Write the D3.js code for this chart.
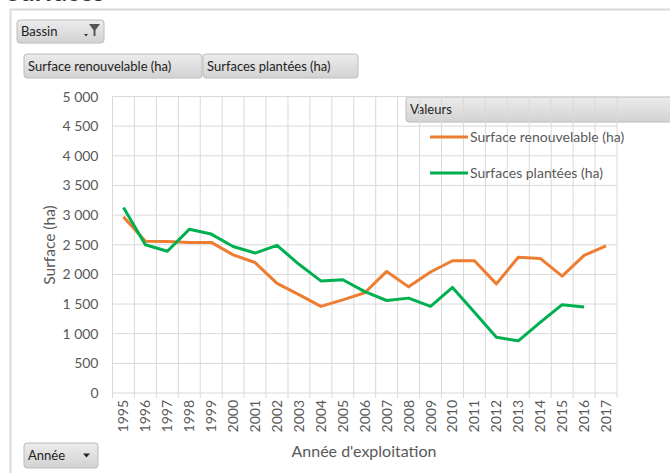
<!DOCTYPE html>
<html>
<head>
<meta charset="utf-8">
<script src="https://cdn.jsdelivr.net/npm/d3@7"></script>
<style>
  body { margin: 0; background: #fff; }
  svg { display: block; font-family: Lato, "Open Sans", sans-serif; }
</style>
</head>
<body>
<div class="canvas"></div>
<script>
// data
const years = ["1995","1996","1997","1998","1999","2000","2001","2002","2003","2004","2005","2006",
  "2007","2008","2009","2010","2011","2012","2013","2014","2015","2016","2017"];
const renouvelable = [2970,2560,2555,2540,2540,2330,2200,1850,1660,1460,1570,1690,
  2050,1790,2040,2230,2230,1840,2290,2270,1970,2320,2480];
const plantees = [3130,2500,2390,2760,2680,2470,2360,2490,2170,1890,1910,1710,
  1560,1600,1460,1780,1360,940,880,1190,1490,1450,null];
const yTicks = [0,500,1000,1500,2000,2500,3000,3500,4000,4500,5000];
const seriesNames = ["Surface renouvelable (ha)", "Surfaces plantées (ha)"];
const seriesColors = ["#ed7d31", "#00b050"];

const w = 670, h = 473;
const margin = { top: 96.5, right: 53, bottom: 80, left: 112.5 };
const graphWidth = w - margin.left - margin.right;
const graphHeight = h - margin.top - margin.bottom;

const svg = d3.select(".canvas").append("svg").attr("width", w).attr("height", h);

// gradient for the pivot buttons
const grad = svg.append("defs").append("linearGradient")
  .attr("id", "btn").attr("x1", 0).attr("y1", 0).attr("x2", 0).attr("y2", 1);
grad.append("stop").attr("offset", "0%").attr("stop-color", "#ececec");
grad.append("stop").attr("offset", "100%").attr("stop-color", "#d2d2d2");

// title, mostly cut off by the top edge
svg.append("text").attr("x", 6).attr("y", 1)
  .attr("font-size", 26).attr("font-weight", "bold").attr("fill", "#333")
  .text("Surfaces");

// chart area border
svg.append("path").attr("d", "M10.5,473 V9.5 H670")
  .attr("fill", "none").attr("stroke", "#d9d9d9").attr("stroke-width", 2);

// pivot field buttons
function button(x, y, bw, bh, label, arrow) {
  const g = svg.append("g").attr("transform", `translate(${x},${y})`);
  g.append("rect").attr("width", bw).attr("height", bh).attr("rx", 3)
    .attr("fill", "url(#btn)").attr("stroke", "#bcbcbc");
  g.append("text").attr("x", 4).attr("y", bh / 2 + 4.5)
    .attr("font-size", 13).attr("fill", "#222").text(label);
  if (arrow === "filter") {
    g.append("path").attr("d", `M${bw - 15},4 h11 l-4.5,6 v6 h-2 v-6 z`).attr("fill", "#555");
    g.append("path").attr("d", `M${bw - 20},${bh - 9} h4 l-2,2.5 z`).attr("fill", "#333");
  } else if (arrow === "down") {
    g.append("path").attr("d", `M${bw - 15},${bh / 2 - 2} h7 l-3.5,4 z`).attr("fill", "#222");
  }
}
button(17, 20, 87, 23, "Bassin", "filter");
button(24, 54, 178, 24, "Surface renouvelable (ha)");
button(203, 54, 155, 24, "Surfaces plantées (ha)");
button(406, 97, 268, 25, "Valeurs");
button(24, 443, 74, 25, "Année", "down");

const graph = svg.append("g").attr("transform", `translate(${margin.left},${margin.top})`);

const x = d3.scaleBand().domain(years).range([0, graphWidth]);
const y = d3.scaleLinear().domain([0, 5000]).range([graphHeight, 0]);

// horizontal grid
graph.append("g").selectAll("line").data(yTicks).enter().append("line")
  .attr("x1", 0).attr("x2", graphWidth)
  .attr("y1", d => y(d)).attr("y2", d => y(d))
  .attr("stroke", "#d9d9d9");

// vertical grid at band edges
graph.append("g").selectAll("line").data(years.concat(["end"])).enter().append("line")
  .attr("x1", (d, i) => i * x.bandwidth()).attr("x2", (d, i) => i * x.bandwidth())
  .attr("y1", 0).attr("y2", graphHeight + 5)
  .attr("stroke", "#d9d9d9");

// y tick labels
graph.append("g").selectAll("text").data(yTicks).enter().append("text")
  .attr("x", -14).attr("y", d => y(d) + 5)
  .attr("text-anchor", "end").attr("font-size", 14).attr("fill", "#595959")
  .text(d => d3.format(",")(d).replace(",", " "));

// x tick labels
graph.append("g").selectAll("text").data(years).enter().append("text")
  .attr("transform", d => `translate(${x(d) + x.bandwidth() / 2 + 5},${graphHeight + 7}) rotate(-90)`)
  .attr("text-anchor", "end").attr("font-size", 14).attr("fill", "#595959")
  .text(d => d);

// axis titles
svg.append("text").attr("transform", "translate(55,245) rotate(-90)")
  .attr("text-anchor", "middle").attr("font-size", 15.5).attr("fill", "#595959")
  .text("Surface (ha)");
svg.append("text").attr("x", 364).attr("y", 457)
  .attr("text-anchor", "middle").attr("font-size", 16).attr("fill", "#595959")
  .text("Année d'exploitation");

// lines
const line = d3.line()
  .defined(d => d.v != null)
  .x(d => x(d.year) + x.bandwidth() / 2)
  .y(d => y(d.v));

[renouvelable, plantees].forEach((vals, i) => {
  graph.append("path")
    .datum(years.map((yr, j) => ({ year: yr, v: vals[j] })))
    .attr("fill", "none").attr("stroke", seriesColors[i])
    .attr("stroke-width", 3).attr("stroke-linejoin", "round")
    .attr("d", line);
});

// legend
const legend = svg.append("g").attr("transform", "translate(430,137)");
seriesNames.forEach((name, i) => {
  legend.append("line").attr("x1", 0).attr("x2", 38)
    .attr("y1", i * 36).attr("y2", i * 36)
    .attr("stroke", seriesColors[i]).attr("stroke-width", 3);
  legend.append("text").attr("x", 40).attr("y", i * 36 + 5)
    .attr("font-size", 14).attr("fill", "#595959").text(name);
});
</script>
</body>
</html>
